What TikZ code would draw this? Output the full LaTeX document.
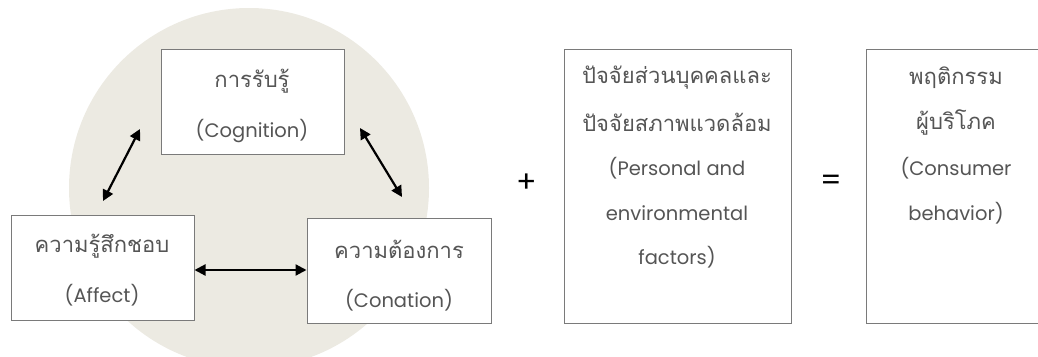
\documentclass[tikz,border=0pt]{standalone}
\usepackage{fontspec}
\newfontfamily\thaifont[Script=Thai]{Loma}
\newfontfamily\latfont{Poppins}
\usetikzlibrary{arrows.meta}
\definecolor{circfill}{HTML}{ECEAE2}
\definecolor{boxline}{HTML}{7A7A7A}
\definecolor{txtgrey}{HTML}{555555}
\tikzset{
  box/.style={draw=boxline, line width=1pt, fill=white},
  lbl/.style={text=txtgrey, font=\latfont\fontsize{19.5}{19.5}\selectfont, inner sep=0pt, anchor=center},
  tlbl/.style={text=txtgrey, font=\thaifont\fontsize{22}{22}\selectfont, inner sep=0pt, anchor=center},
  dbl/.style={line width=2.2pt, {Triangle[length=11pt,width=11pt]}-{Triangle[length=11pt,width=11pt]}},
  op/.style={font=\latfont\fontsize{30}{30}\selectfont, inner sep=0pt, anchor=center}
}
\begin{document}
\begin{tikzpicture}[x=1pt,y=-1pt]
\useasboundingbox (0,0) rectangle (1038,356);
\begin{scope}
\clip (0,0) rectangle (1038,356);
\fill[circfill] (249,188) circle (180);
\end{scope}
% boxes
\node[box, minimum width=183pt, minimum height=105pt, inner sep=0pt] (cog) at (252.5,101.5) {};
\node[box, minimum width=183pt, minimum height=105pt, inner sep=0pt] (aff) at (102.5,267.5) {};
\node[box, minimum width=184pt, minimum height=105pt, inner sep=0pt] (con) at (399,270.5) {};
\node[box, minimum width=227pt, minimum height=274pt, inner sep=0pt] (pers) at (677.5,186) {};
\node[box, minimum width=172pt, minimum height=274pt, inner sep=0pt] (cons) at (952,186) {};
% texts
\node[tlbl] (cogt) at (252,81) {การรับรู้};
\node[lbl] (cogl) at (252,131) {(Cognition)};
\node[tlbl] (afft) at (102,246) {ความรู้สึกชอบ};
\node[lbl] (affl) at (102,295) {(Affect)};
\node[tlbl] (cont) at (399,249) {ความต้องการ};
\node[lbl] (conl) at (399,300) {(Conation)};
\node[tlbl] (p1) at (677,78) {ปัจจัยส่วนบุคคลและ};
\node[tlbl] (p2) at (677,122) {ปัจจัยสภาพแวดล้อม};
\node[lbl] (p3) at (677,168) {(Personal and};
\node[lbl] (p4) at (677,213) {environmental};
\node[lbl] (p5) at (677,257) {factors)};
\node[tlbl] (c1) at (956,78) {พฤติกรรม};
\node[tlbl] (c2) at (956,122) {ผู้บริโภค};
\node[lbl] (c3) at (956,168) {(Consumer};
\node[lbl] (c4) at (956,213) {behavior)};
% operators
\node[op] (plus) at (527,183) {+};
\node[op] (eq) at (831,183) {=};
% arrows
\coordinate (a1) at (140,129);
\coordinate (a2) at (103,201);
\coordinate (b1) at (360,128);
\coordinate (b2) at (402,197);
\draw[dbl] (a1) -- (a2);
\draw[dbl] (b1) -- (b2);
\draw[dbl] (aff.east |- 0,270) -- (con.west |- 0,270);
\end{tikzpicture}
\end{document}
